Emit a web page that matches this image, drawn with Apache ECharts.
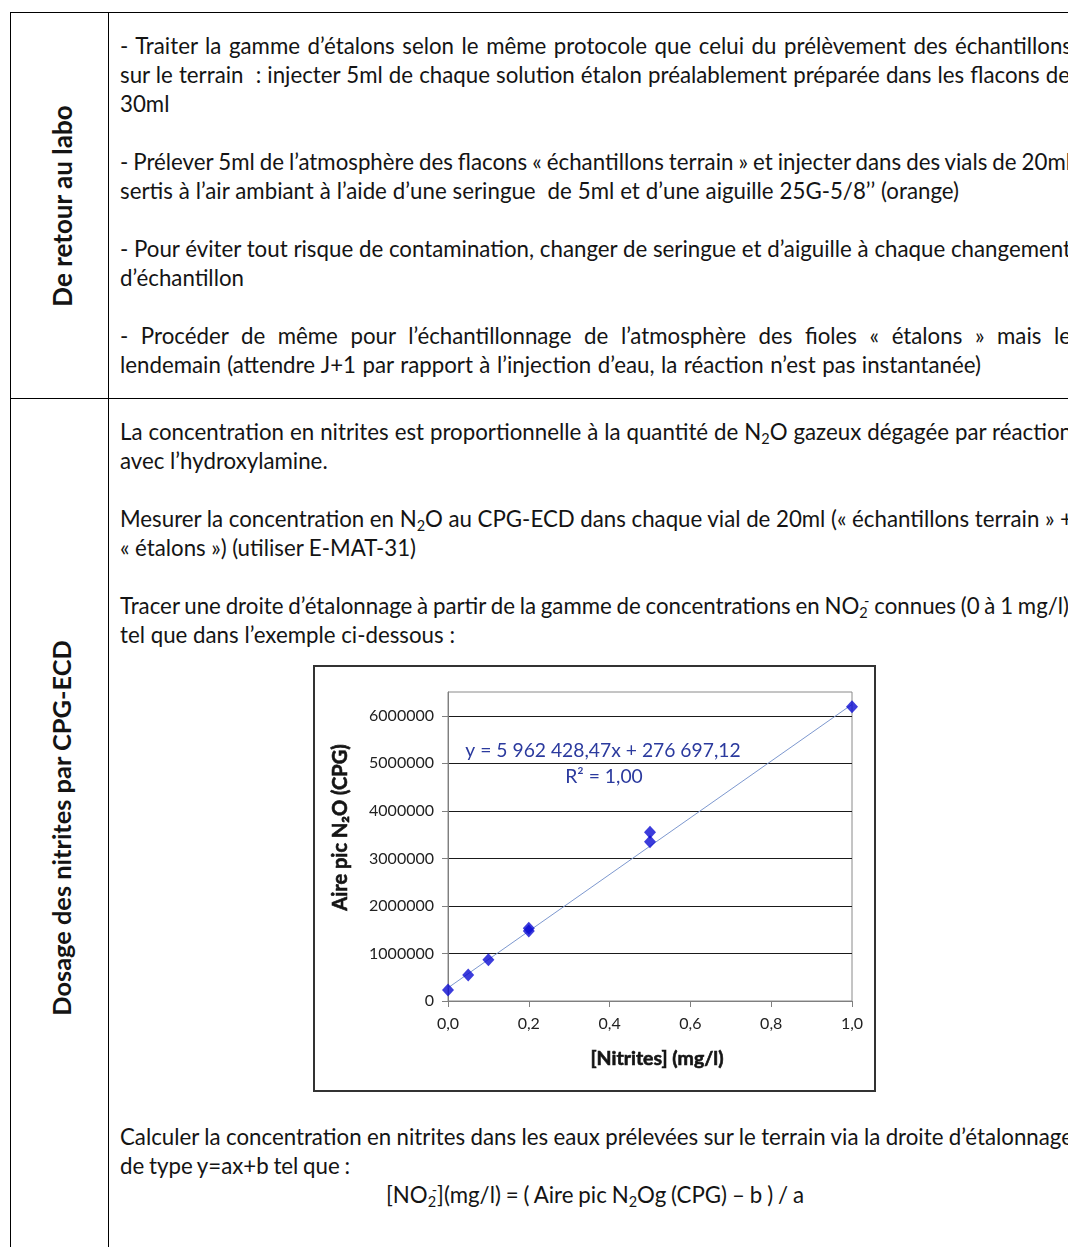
<!DOCTYPE html>
<html><head><meta charset="utf-8">
<script src="https://cdn.jsdelivr.net/npm/echarts@6/dist/echarts.min.js"></script>
<style>
html,body{margin:0;padding:0;background:#fff;}
#page{position:relative;width:1068px;height:1247px;overflow:hidden;background:#fff;font-family:Lato,"Open Sans",sans-serif;color:#141414;}
.hl{position:absolute;background:#000;height:1px;}
.vl{position:absolute;background:#000;width:1px;}
.ln{position:absolute;white-space:pre;line-height:30px;height:30px;font-size:20px;}
.side{position:absolute;white-space:nowrap;font-weight:bold;font-size:20px;line-height:1;transform:translate(-50%,-50%) rotate(-90deg);transform-origin:50% 50%;}
#chart{position:absolute;left:313px;top:665px;width:563px;height:427px;}
sub{font-size:0.65em;vertical-align:-0.28em;line-height:0;}
sup{font-size:0.65em;vertical-align:0.55em;line-height:0;}
</style></head>
<body>
<div id="page">
  <div class="hl" style="left:10px;top:12px;width:1058px"></div>
  <div class="hl" style="left:10px;top:398px;width:1058px"></div>
  <div class="vl" style="left:10px;top:12px;height:1235px"></div>
  <div class="vl" style="left:108px;top:12px;height:1235px"></div>
  <div id="chart"></div>
</div>
<script>
// ---- chart data ----
const xValues = [0, 0.05, 0.1, 0.2, 0.2, 0.5, 0.5, 1.0];
const yValues = [230000, 545000, 870000, 1530000, 1470000, 3550000, 3350000, 6190000];
const trendSlope = 5962428.47;
const trendIntercept = 276697.12;
const trendX = [0, 1];
const equationText = 'y = 5 962 428,47x + 276 697,12';
const r2Text = 'R² = 1,00';
const xAxisTitle = '[Nitrites] (mg/l)';
const yAxisTitle = 'Aire pic N₂O (CPG)';

// ---- document text ----
const docLines = [
  {h:'- Traiter la gamme d’étalons selon le même protocole que celui du prélèvement des échantillons', y:47, end:1072},
  {h:'sur le terrain  : injecter 5ml de chaque solution étalon préalablement préparée dans les flacons de', y:76, end:1070},
  {h:'30ml', y:105},
  {h:'- Prélever 5ml de l’atmosphère des flacons « échantillons terrain » et injecter dans des vials de 20ml', y:163, end:1071},
  {h:'sertis à l’air ambiant à l’aide d’une seringue  de 5ml et d’une aiguille 25G-5/8’’ (orange)', y:192, end:959, ref:true},
  {h:'- Pour éviter tout risque de contamination, changer de seringue et d’aiguille à chaque changement', y:250, end:1071},
  {h:'d’échantillon', y:279},
  {h:'- Procéder de même pour l’échantillonnage de l’atmosphère des fioles « étalons » mais le', y:337, end:1071},
  {h:'lendemain (attendre J+1 par rapport à l’injection d’eau, la réaction n’est pas instantanée)', y:366, end:981, ref:true},
  {h:'La concentration en nitrites est proportionnelle à la quantité de N<sub>2</sub>O gazeux dégagée par réaction', y:433, end:1072},
  {h:'avec l’hydroxylamine.', y:462, end:329, ref:true},
  {h:'Mesurer la concentration en N<sub>2</sub>O au CPG-ECD dans chaque vial de 20ml (« échantillons terrain » +', y:520, end:1073},
  {h:'« étalons ») (utiliser E-MAT-31)', y:549, end:416, ref:true},
  {h:'Tracer une droite d’étalonnage à partir de la gamme de concentrations en NO<sub>2</sub><sup style="margin-left:-0.25em">-</sup> connues (0 à 1 mg/l)', y:607, end:1069},
  {h:'tel que dans l’exemple ci-dessous :', y:636, end:455, ref:true},
  {h:'Calculer la concentration en nitrites dans les eaux prélevées sur le terrain via la droite d’étalonnage', y:1138, end:1073},
  {h:'de type y=ax+b tel que :', y:1167, end:350, ref:true},
  {h:'[NO<sub>2</sub><sup style="margin-left:-0.3em">-</sup>](mg/l) = ( Aire pic N<sub>2</sub>Og (CPG) – b ) / a', y:1196, x:386, end:804, ref:true}
];
const sideLabels = [
  {t:'De retour au labo', cx:62, cy:206, len:202},
  {t:'Dosage des nitrites par CPG-ECD', cx:62, cy:828, len:376}
];

const page = document.getElementById('page');
const els = docLines.map(l => {
  const d = document.createElement('div');
  d.className = 'ln';
  d.innerHTML = l.h;
  d.style.left = (l.x || 120) + 'px';
  d.style.top = (l.y - 16) + 'px';
  page.appendChild(d);
  return d;
});
// pick a common font size from the un-clipped reference lines
const ratios = [];
docLines.forEach((l, i) => { if (l.ref) ratios.push((l.end - (l.x || 120)) / els[i].getBoundingClientRect().width); });
ratios.sort((a, b) => a - b);
const fs = 20 * ratios[Math.floor(ratios.length / 2)];
els.forEach(e => e.style.fontSize = fs + 'px');
docLines.forEach((l, i) => {
  if (!l.end) return;
  const spaces = (els[i].textContent.match(/ /g) || []).length;
  if (spaces < 3) return;
  const w = els[i].getBoundingClientRect().width;
  els[i].style.wordSpacing = ((l.end - (l.x || 120) - w) / spaces) + 'px';
});
sideLabels.forEach(s => {
  const d = document.createElement('div');
  d.className = 'side';
  d.textContent = s.t;
  d.style.left = s.cx + 'px';
  d.style.top = s.cy + 'px';
  page.appendChild(d);
  const w = d.offsetWidth;
  d.style.fontSize = (20 * s.len / w) + 'px';
});

// ---- chart ----
const chart = echarts.init(document.getElementById('chart'), null, {renderer: 'canvas'});
const points = xValues.map((x, i) => [x, yValues[i]]);
const trend = trendX.map(x => [x, trendSlope * x + trendIntercept]);
const F = 'Lato, "Open Sans", sans-serif';
const nameStyle = {fontWeight: 'bold', fontSize: 19.5, color: '#141414', fontFamily: F,
                   textBorderColor: '#141414', textBorderWidth: 0.6};
chart.setOption({
  animation: false,
  backgroundColor: '#fff',
  grid: {left: 135, top: 27, right: 24, bottom: 91, show: true, borderColor: '#8a8a8a', borderWidth: 1, backgroundColor: 'transparent'},
  xAxis: {
    type: 'value', min: 0, max: 1, interval: 0.2,
    axisLine: {show: true, onZero: false, lineStyle: {color: '#7f7f7f', width: 1}},
    axisTick: {show: true, inside: false, length: 6, lineStyle: {color: '#7f7f7f'}},
    axisLabel: {margin: 15, fontSize: 16, color: '#222', fontFamily: F, formatter: v => v.toFixed(1).replace('.', ',')},
    splitLine: {show: false},
    name: xAxisTitle, nameLocation: 'middle', nameGap: 48,
    nameTextStyle: Object.assign({}, nameStyle, {padding: [0, 0, 0, 14]})
  },
  yAxis: {
    type: 'value', min: 0, max: 6500000, interval: 1000000,
    axisLine: {show: true, lineStyle: {color: '#7f7f7f', width: 1}},
    axisTick: {show: true, inside: false, length: 6, lineStyle: {color: '#7f7f7f'}},
    axisLabel: {margin: 14, fontSize: 16, color: '#222', fontFamily: F, showMaxLabel: false, formatter: v => String(Math.round(v))},
    splitLine: {show: true, showMaxLine: false, lineStyle: {color: '#1a1a1a', width: 1}},
    name: yAxisTitle, nameLocation: 'middle', nameRotate: 90, nameGap: 97,
    nameTextStyle: Object.assign({}, nameStyle, {fontSize: 20, padding: [0, 0, 0, 38]})
  },
  series: [
    {type: 'line', data: trend, symbol: 'none', silent: true, z: 2,
     lineStyle: {color: '#7d98cf', width: 1}},
    {type: 'scatter', data: points, symbol: 'diamond', symbolSize: [12, 13], z: 3,
     itemStyle: {color: '#0b0bd2'}}
  ],
  graphic: [
    {type: 'rect', shape: {x: 1, y: 1, width: 561, height: 425}, style: {fill: 'none', stroke: '#333', lineWidth: 2}, z: 10},
    {type: 'text', x: 290, y: 86, style: {text: equationText, align: 'center', verticalAlign: 'middle', fill: '#2b3a9e', fontSize: 19.3, fontFamily: F}, z: 10},
    {type: 'text', x: 291, y: 112, style: {text: r2Text, align: 'center', verticalAlign: 'middle', fill: '#2b3a9e', fontSize: 19.3, fontFamily: F}, z: 10}
  ]
});
</script>
</body></html>
